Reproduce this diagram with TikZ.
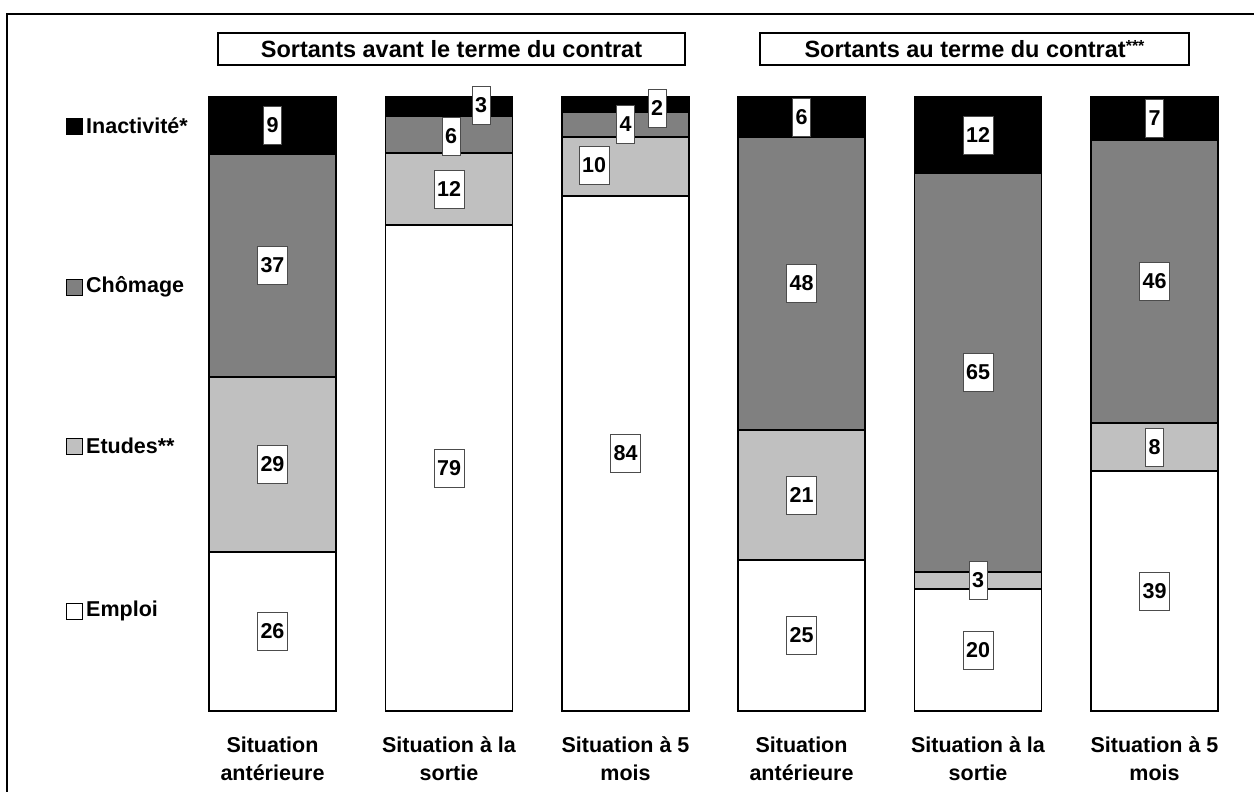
\documentclass[tikz,border=0pt]{standalone}
\usepackage{fontspec}
\setmainfont{Liberation Sans}
\definecolor{cgray}{RGB}{128,128,128}
\definecolor{clight}{RGB}{192,192,192}
\newcommand\stackbar[4]{%
  \filldraw[seg,fill=white] (#1,711) rectangle (#1+127,#2);
  \filldraw[seg,fill=clight] (#1,#2) rectangle (#1+127,#3);
  \filldraw[seg,fill=cgray] (#1,#3) rectangle (#1+127,#4);
  \filldraw[seg,fill=black] (#1,#4) rectangle (#1+127,97);
}
\tikzset{
  seg/.style={draw=black, line width=1.4pt},
  val/.style={draw=black!70, fill=white, line width=0.9pt, inner xsep=3pt, inner ysep=0pt,
    minimum height=38pt, font=\fontsize{21.5}{24}\selectfont\bfseries},
  ttl/.style={draw=black, line width=1.5pt, minimum height=32pt, inner sep=0pt,
    font=\fontsize{23.5}{26}\selectfont\bfseries},
  cat/.style={anchor=base, inner sep=0pt, font=\fontsize{21.5}{24}\selectfont\bfseries},
  leg/.style={anchor=west, inner sep=0pt, font=\fontsize{21.5}{24}\selectfont\bfseries},
  legbox/.style={draw=black, line width=0.9pt, minimum size=16pt, inner sep=0pt},
}
\begin{document}
\begin{tikzpicture}[x=1pt,y=-1pt]
\useasboundingbox (0,0) rectangle (1254,792);
% outer frame (right and bottom edges lie outside the picture)
\draw[line width=2pt] (7,800) -- (7,14) -- (1260,14);

% titles
\node[ttl, minimum width=467pt] (t1) at (451.5,49) {Sortants avant le terme du contrat};
\node[ttl, minimum width=429pt] (t2) at (974.5,49) {Sortants au terme du contrat\raisebox{6pt}{\fontsize{16}{16}\selectfont ***}};

% legend
\node[legbox, fill=black] (k1) at (74,126) {};
\node[leg] (l1) at (86,126) {Inactivité*};
\node[legbox, fill=cgray] (k2) at (74,287) {};
\node[leg] (l2) at (86,287) {Chômage};
\node[legbox, fill=clight] (k3) at (74,446) {};
\node[leg] (l3) at (86,446) {Etudes**};
\node[legbox, fill=white] (k4) at (74,611) {};
\node[leg] (l4) at (86,611) {Emploi};

% bars: left x, top of Emploi, top of Etudes, top of Chômage
\stackbar{209}{552}{377}{154}
\stackbar{385.5}{225}{153}{116}
\stackbar{562}{196}{137}{112}
\stackbar{738}{560}{430}{137}
\stackbar{914.5}{589}{572}{173}
\stackbar{1091}{471}{423}{140}

% values
\node[val] (a1) at (272.5,631.5) {26};
\node[val] (a2) at (272.5,464.5) {29};
\node[val] (a3) at (272.5,265.5) {37};
\node[val] (a4) at (272.5,125.5) {9};

\node[val] (b1) at (449,468) {79};
\node[val] (b2) at (449,189) {12};
\node[val] (b3) at (451,136) {6};
\node[val] (b4) at (481,105.5) {3};

\node[val] (c1) at (625.5,453.5) {84};
\node[val] (c2) at (594,165) {10};
\node[val] (c3) at (625.5,124.5) {4};
\node[val] (c4) at (657,108) {2};

\node[val] (d1) at (801.5,635.5) {25};
\node[val] (d2) at (801.5,495) {21};
\node[val] (d3) at (801.5,283.5) {48};
\node[val] (d4) at (801.5,117) {6};

\node[val] (e1) at (978,650) {20};
\node[val] (e2) at (978,580) {3};
\node[val] (e3) at (978,372.5) {65};
\node[val] (e4) at (978,135) {12};

\node[val] (f1) at (1154.5,591) {39};
\node[val] (f2) at (1154.5,447) {8};
\node[val] (f3) at (1154.5,281.5) {46};
\node[val] (f4) at (1154.5,118.5) {7};

% category labels
\node[cat] (s1a) at (272.5,752) {Situation};
\node[cat] (s1b) at (272.5,780) {antérieure};
\node[cat] (s2a) at (449,752) {Situation à la};
\node[cat] (s2b) at (449,780) {sortie};
\node[cat] (s3a) at (625.5,752) {Situation à 5};
\node[cat] (s3b) at (625.5,780) {mois};
\node[cat] (s4a) at (801.5,752) {Situation};
\node[cat] (s4b) at (801.5,780) {antérieure};
\node[cat] (s5a) at (978,752) {Situation à la};
\node[cat] (s5b) at (978,780) {sortie};
\node[cat] (s6a) at (1154.5,752) {Situation à 5};
\node[cat] (s6b) at (1154.5,780) {mois};
\end{tikzpicture}
\end{document}
